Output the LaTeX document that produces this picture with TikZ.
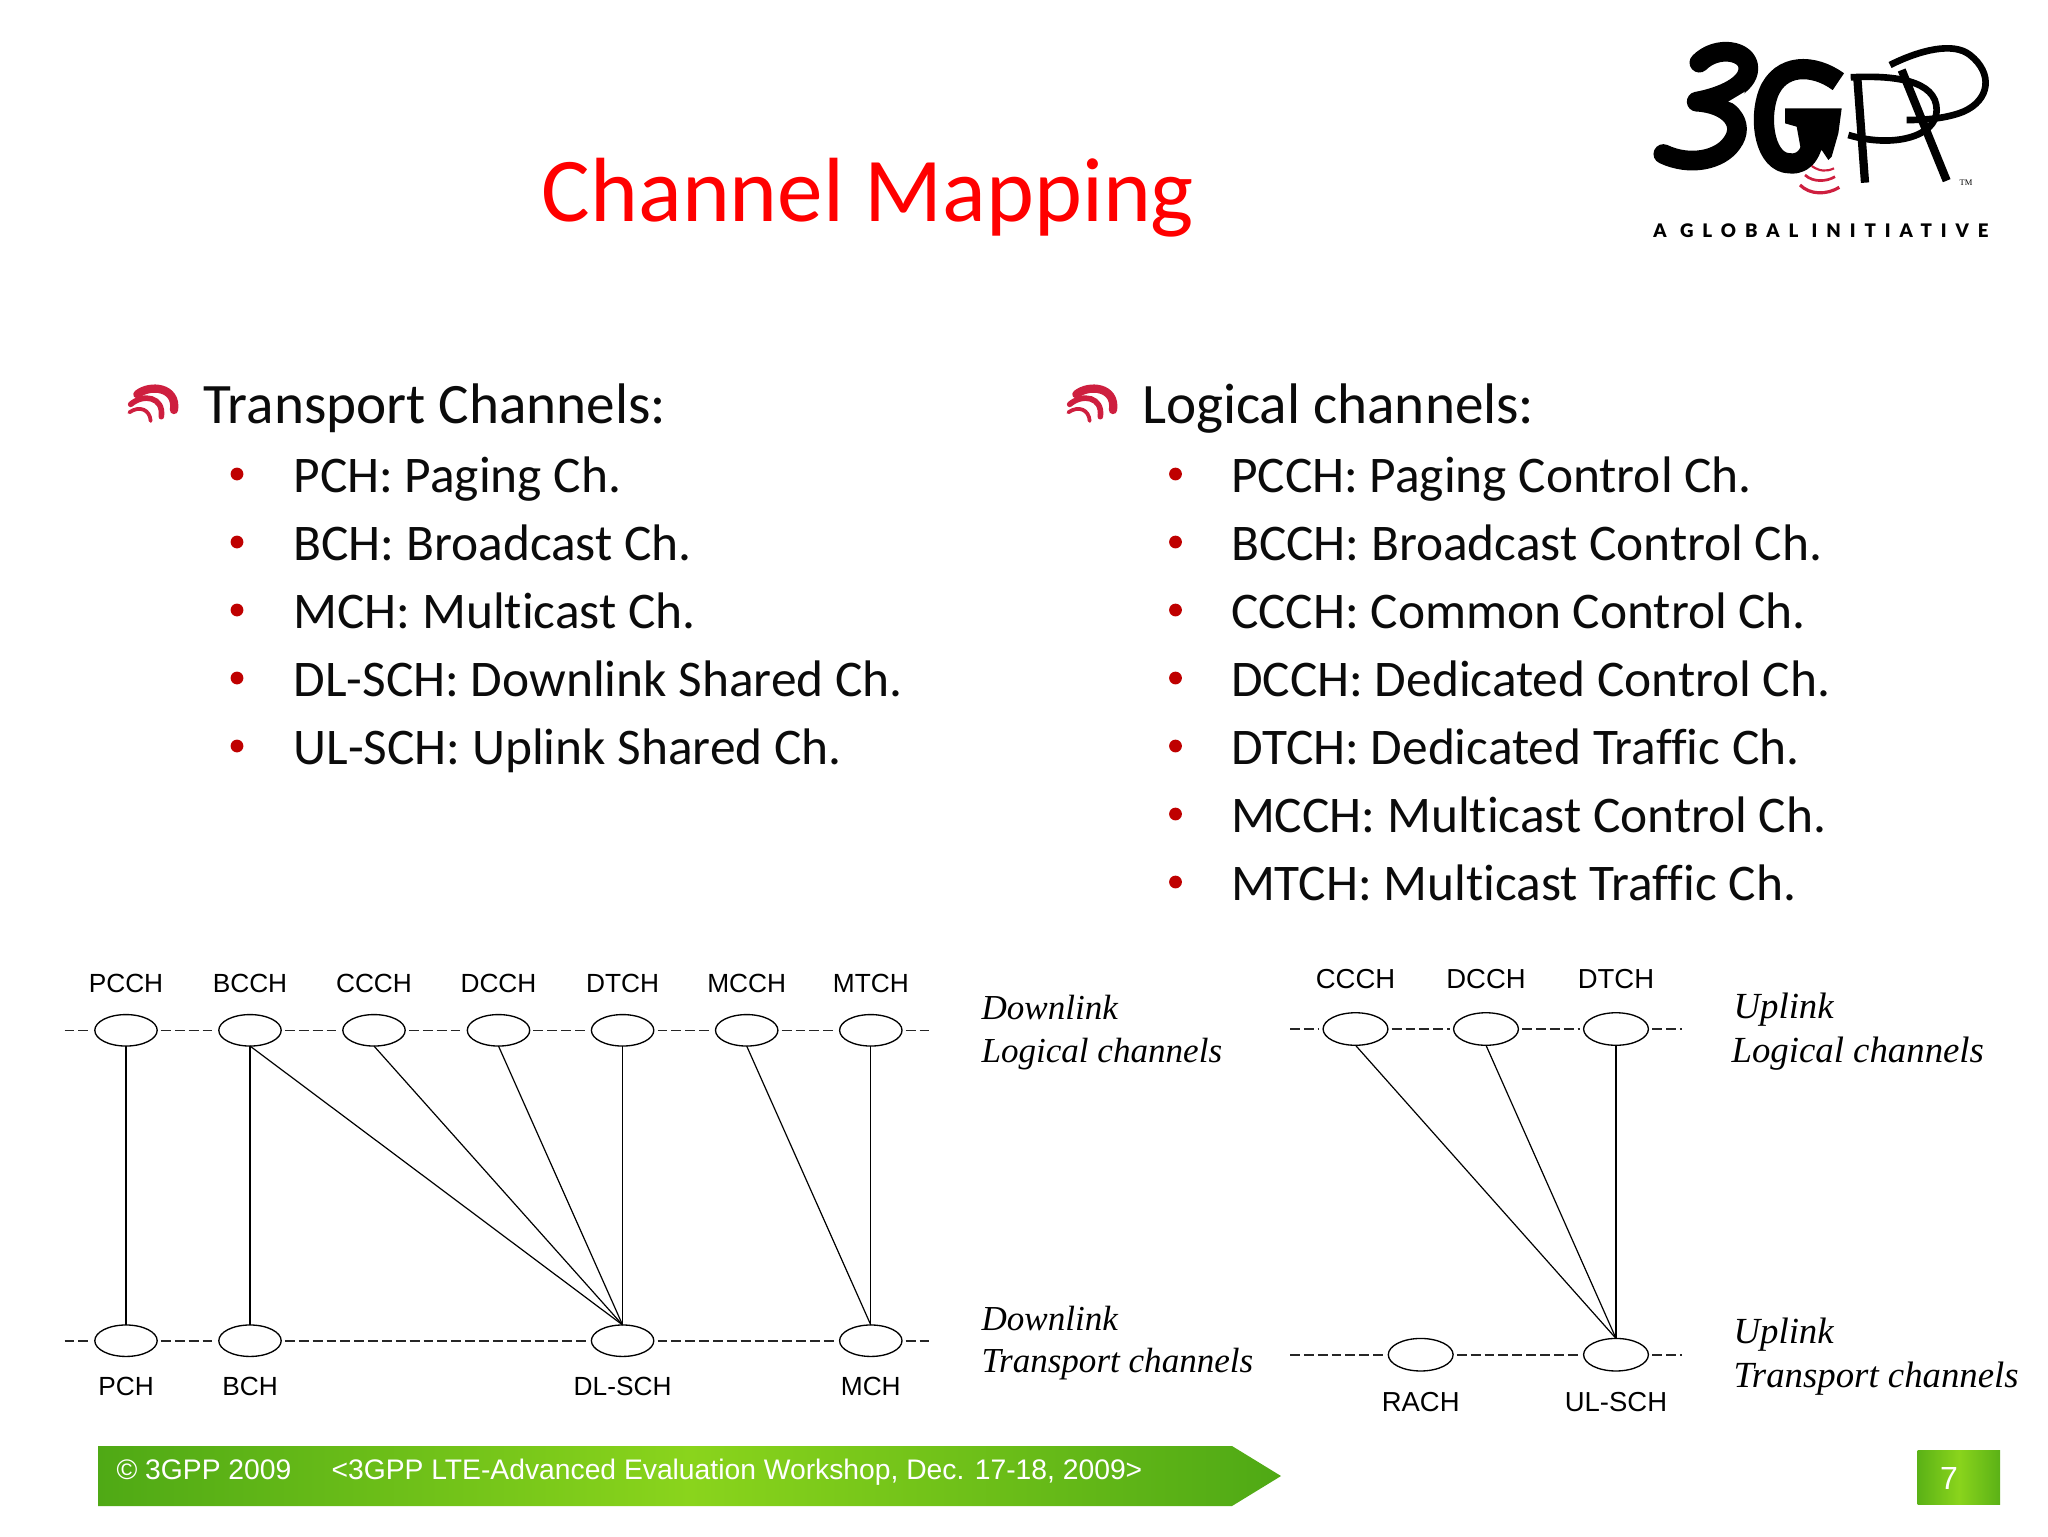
\documentclass[tikz,border=0pt]{standalone}
\usepackage{fontspec}
\usetikzlibrary{shapes.geometric}
\setmainfont[Ligatures=CommonOff]{Carlito}
\newfontfamily\arialf{Liberation Sans}
\newfontfamily\timesf{Liberation Serif}
\newfontfamily\logof[LetterSpace=48]{Lato Black}
\definecolor{inktext}{HTML}{0B0B0B}
\definecolor{barside}{HTML}{4FA915}
\definecolor{barmid}{HTML}{8AD41C}
\definecolor{crim}{HTML}{CE1F3F}
\tikzset{
  title/.style={anchor=base,text=red,font=\fontsize{34.2}{34.2}\selectfont,inner sep=0},
  head/.style={anchor=base west,text=inktext,font=\fontsize{21.45}{21.45}\selectfont,inner sep=0},
  item/.style={anchor=base west,text=inktext,font=\fontsize{19.27}{19.27}\selectfont,inner sep=0},
  bul/.style={circle,fill=red!75!black,minimum size=4.8pt,inner sep=0},
  chan/.style={ellipse,draw=black,line width=.5pt,minimum width=23.4pt,minimum height=11.8pt,inner sep=0,outer sep=0},
  chanr/.style={chan,minimum width=24.3pt,minimum height=12.2pt},
  lab/.style={anchor=center,text=black,font=\arialf\fontsize{9.85}{9.85}\selectfont,inner sep=0},
  labr/.style={lab,font=\arialf\fontsize{10.3}{10.3}\selectfont},
  ital/.style={anchor=base west,text=black,font=\timesf\itshape\fontsize{13.15}{13.15}\selectfont,inner sep=0},
  italr/.style={ital,font=\timesf\itshape\fontsize{13.8}{13.8}\selectfont},
  dashl/.style={draw=black!85,line width=.6pt,dash pattern=on 3.7pt off 1.5pt,shorten <=1.4pt,shorten >=1.4pt},
  solidl/.style={draw=black,line width=.45pt},
  foot/.style={anchor=base west,text=white,font=\arialf\fontsize{10.6}{10.6}\selectfont,inner sep=0},
  signal/.pic={
    \begin{scope}[x=.125pt,y=-.125pt,draw=crim,line cap=round]
      \draw[line width=3.1pt] (112,103) .. controls (150,72) and (232,80) .. (222,150);
      \draw[line width=2.1pt] (92,133) .. controls (130,100) and (192,110) .. (184,170);
      \draw[line width=1.4pt] (88,157) .. controls (120,135) and (150,150) .. (152,183);
    \end{scope}
  }
}
\begin{document}
\begin{tikzpicture}[x=.375pt,y=-.375pt]
\useasboundingbox (0,0) rectangle (2048,1536);
\fill[white] (0,0) rectangle (2048,1536);

\node[title] (ttl) at (868,221) {Channel Mapping};

% logo
\begin{scope}[shift={(1600,0)},x=.125pt,y=-.125pt,line join=round]
  \draw[line width=7.4pt,line cap=round] (298,188) .. controls (350,135) and (445,150) .. (445,205) .. controls (445,255) and (370,290) .. (290,305) .. controls (385,310) and (440,370) .. (395,430) .. controls (360,480) and (270,500) .. (190,462);
  \fill[white] (385,305) -- (435,275) -- (415,315) -- cycle;
  \draw[line width=7.6pt] (715,245) .. controls (640,190) and (540,190) .. (505,280) .. controls (475,360) and (495,490) .. (570,490) .. controls (620,495) and (640,450) .. (650,370);
  \fill (555,325) -- (725,325) -- (715,400) -- (695,470) -- (685,480) -- (665,450) -- (640,470) -- (610,490) -- (590,380) -- (555,370) -- cycle;
  \draw[line width=3.1pt] (795,548) -- (772,235);
  \draw[line width=2.5pt] (752,232) .. controls (880,225) and (1010,240) .. (1010,330) .. controls (1010,410) and (880,445) .. (745,405);
  \draw[line width=3.1pt] (1040,542) -- (905,210);
  \draw[line width=2.5pt] (870,195) .. controls (960,150) and (1060,125) .. (1110,165) .. controls (1180,220) and (1170,300) .. (1090,335) .. controls (1040,355) and (980,360) .. (920,360);
  \draw[crim,line width=.8pt] (635,498) .. controls (660,515) and (680,515) .. (702,505);
  \draw[crim,line width=1pt] (615,525) .. controls (640,548) and (680,545) .. (705,530);
  \draw[crim,line width=1.2pt] (600,555) .. controls (630,585) and (680,585) .. (718,562);
  \node[inner sep=0,font=\timesf\fontsize{3.2}{3.2}\selectfont] (tm) at (1098,549) {TM};
  \node[inner sep=0,font=\logof\fontsize{7}{7}\selectfont] (glob) at (663,692) {A GLOBAL INITIATIVE};
\end{scope}

% left list
\pic at (100,360) {signal};
\node[head] (hleft) at (203,423) {Transport Channels:};
\foreach \nm/\t [count=\i from 0] in {a/PCH: Paging Ch.,b/BCH: Broadcast Ch.,c/MCH: Multicast Ch.,d/DL-SCH: Downlink Shared Ch.,e/UL-SCH: Uplink Shared Ch.}{
  \node[item] (l\nm) at (293,492.7+\i*68) {\t};
  \node[bul] (lb\nm) at (237,474+\i*68) {};
}
% right list
\pic at (1039,360) {signal};
\node[head] (hright) at (1141.5,423) {Logical channels:};
\foreach \nm/\t [count=\i from 0] in {a/PCCH: Paging Control Ch.,b/BCCH: Broadcast Control Ch.,c/CCCH: Common Control Ch.,d/DCCH: Dedicated Control Ch.,e/DTCH: Dedicated Traffic Ch.,f/MCCH: Multicast Control Ch.,g/MTCH: Multicast Traffic Ch.}{
  \node[item] (r\nm) at (1230.5,492.7+\i*68) {\t};
  \node[bul] (rb\nm) at (1175.5,474+\i*68) {};
}

% left diagram
\foreach \nm/\t/\x in {pcch/PCCH/126,bcch/BCCH/250,ccch/CCCH/374,dcch/DCCH/498.5,dtch/DTCH/622.6,mcch/MCCH/746.7,mtch/MTCH/870.8}{
  \node[chan] (\nm) at (\x,1030.3) {};
  \node[lab] (t\nm) at (\x,983) {\t};
}
\foreach \nm/\t/\x in {pch/PCH/126,bch/BCH/250,dlsch/DL-SCH/622.6,mch/MCH/870.8}{
  \node[chan] (\nm) at (\x,1340.7) {};
  \node[lab] (t\nm) at (\x,1386.5) {\t};
}
\coordinate (a0) at (64.5,1030.3);
\coordinate (a1) at (929,1030.3);
\coordinate (b0) at (64.5,1340.7);
\coordinate (b1) at (929,1340.7);
\draw[dashl,shorten <=0pt] (a0) -- (pcch);
\draw[dashl,shorten >=0pt] (mtch) -- (a1);
\draw[dashl,shorten <=0pt] (b0) -- (pch);
\draw[dashl,shorten >=0pt] (mch) -- (b1);
\foreach \p/\q in {pcch/bcch,bcch/ccch,ccch/dcch,dcch/dtch,dtch/mcch,mcch/mtch,pch/bch,bch/dlsch,dlsch/mch}{
  \draw[dashl] (\p) -- (\q);
}
\draw[solidl] (pcch.south) -- (pch.north);
\draw[solidl] (bcch.south) -- (bch.north);
\draw[solidl] (bcch.south) -- (dlsch.north);
\draw[solidl] (ccch.south) -- (dlsch.north);
\draw[solidl] (dcch.south) -- (dlsch.north);
\draw[solidl] (dtch.south) -- (dlsch.north);
\draw[solidl] (mcch.south) -- (mch.north);
\draw[solidl] (mtch.south) -- (mch.north);

\node[ital] (il1) at (981,1019.7) {Downlink};
\node[ital] (il2) at (981,1062.4) {Logical channels};
\node[ital] (il3) at (981,1330.7) {Downlink};
\node[ital] (il4) at (981,1372.4) {Transport channels};

% right diagram
\foreach \nm/\t/\x in {uccch/CCCH/1355.5,udcch/DCCH/1486,udtch/DTCH/1616}{
  \node[chanr] (\nm) at (\x,1029) {};
  \node[labr] (t\nm) at (\x,979) {\t};
}
\foreach \nm/\t/\x in {rach/RACH/1420.7,ulsch/UL-SCH/1616}{
  \node[chanr] (\nm) at (\x,1354.7) {};
  \node[labr] (t\nm) at (\x,1402.5) {\t};
}
\coordinate (c0) at (1290,1029);
\coordinate (c1) at (1682,1029);
\coordinate (d0) at (1290,1354.7);
\coordinate (d1) at (1682,1354.7);
\draw[dashl,shorten <=0pt] (c0) -- (uccch);
\draw[dashl,shorten >=0pt] (udtch) -- (c1);
\draw[dashl,shorten <=0pt] (d0) -- (rach);
\draw[dashl,shorten >=0pt] (ulsch) -- (d1);
\draw[dashl] (uccch) -- (udcch);
\draw[dashl] (udcch) -- (udtch);
\draw[dashl] (rach) -- (ulsch);
\draw[solidl] (uccch.south) -- (ulsch.north);
\draw[solidl] (udcch.south) -- (ulsch.north);
\draw[solidl] (udtch.south) -- (ulsch.north);

\node[italr] (ir1) at (1733,1018.2) {Uplink};
\node[italr] (ir2) at (1731,1062.2) {Logical channels};
\node[italr] (ir3) at (1733,1343.7) {Uplink};
\node[italr] (ir4) at (1733,1387.7) {Transport channels};

% footer
\shade[left color=barside,right color=barside,middle color=barmid] (98,1446) -- (1232,1446) -- (1281,1476) -- (1232,1506) -- (98,1506) -- cycle;
\node[foot] (f1) at (116,1479.5) {© 3GPP 2009};
\node[foot] (f2) at (331,1479.5) {<3GPP LTE-Advanced Evaluation Workshop, Dec. 17-18, 2009>};
\shade[left color=barside!80!barmid,right color=barside!80!barmid,middle color=barmid] (1917.7,1450) rectangle (2000,1504);
\node[anchor=center,inner sep=0,text=white,font=\arialf\fontsize{12}{12}\selectfont] (pgno) at (1949,1478) {7};
\end{tikzpicture}
\end{document}
